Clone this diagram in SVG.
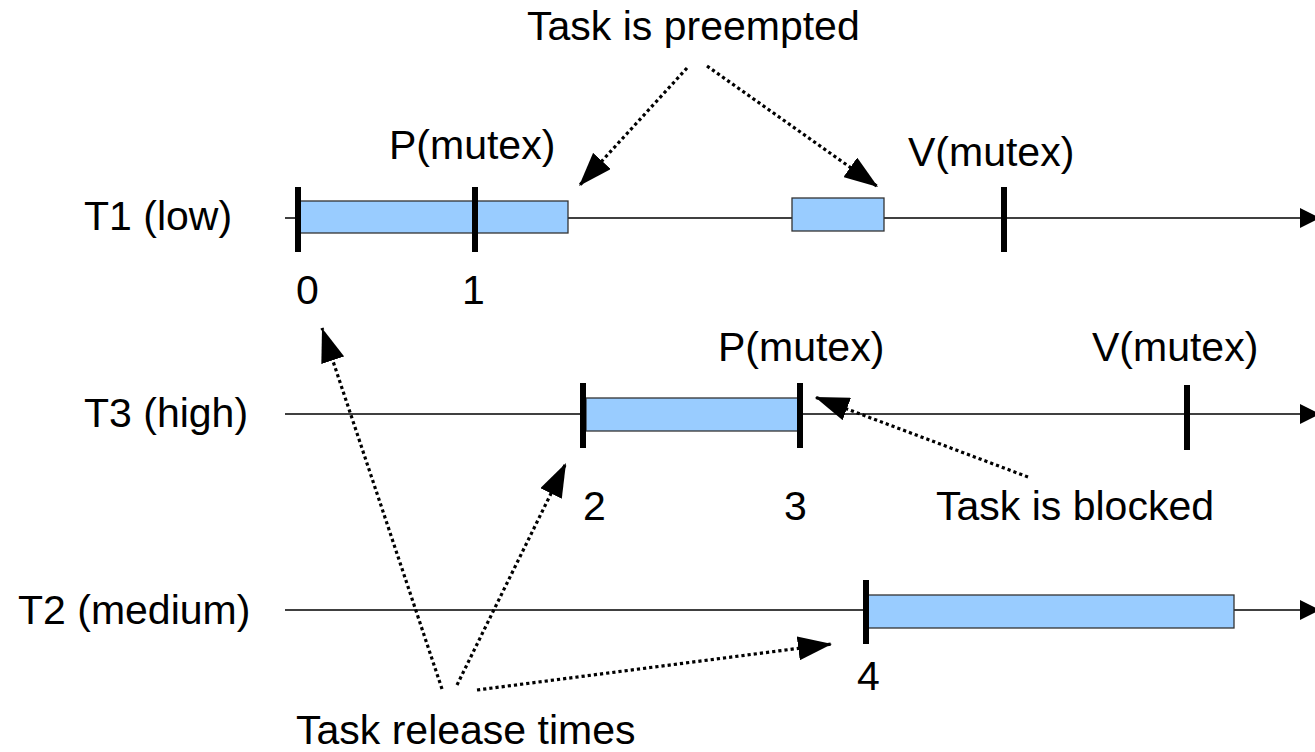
<svg xmlns="http://www.w3.org/2000/svg" width="1315" height="752" viewBox="0 0 1315 752">
<style>
text{font-family:"Liberation Sans",Arial,sans-serif;font-size:41px;fill:#000}
.axis{stroke:#000;stroke-width:1.5;fill:none}
.bar{fill:#99ccff;stroke:#333;stroke-width:1.3}
.tick{fill:#000}
.dot{stroke:#000;stroke-width:3.2;stroke-dasharray:3.2 3;fill:none;marker-end:url(#ah)}
</style>
<defs>
<marker id="ah" viewBox="0 0 34 24" refX="34" refY="12" markerWidth="34" markerHeight="24" markerUnits="userSpaceOnUse" orient="auto">
<path d="M0,0 L34,12 L0,24 z" fill="#000"/>
</marker>
</defs>
<rect width="1315" height="752" fill="#fff"/>

<g id="timeline-T1">
<text x="84" y="230">T1 (low)</text>
<line class="axis" x1="285" y1="218" x2="1305" y2="218"/>
<polygon points="1300,208 1320,218 1300,228" fill="#000"/>
<rect class="bar" x="298" y="201" width="270" height="32"/>
<rect class="bar" x="792" y="198" width="92" height="33"/>
<rect class="tick" x="295" y="187" width="6" height="65"/>
<rect class="tick" x="472" y="187" width="6" height="65"/>
<rect class="tick" x="1001" y="187" width="6" height="65"/>
<text x="389" y="159">P(mutex)</text>
<text x="908" y="166">V(mutex)</text>
<text x="296" y="304">0</text>
<text x="462" y="304">1</text>
</g>

<g id="timeline-T3">
<text x="84" y="427">T3 (high)</text>
<line class="axis" x1="285" y1="414" x2="1305" y2="414"/>
<polygon points="1300,404 1320,414 1300,424" fill="#000"/>
<rect class="bar" x="586" y="398" width="214" height="33"/>
<rect class="tick" x="580" y="383" width="6" height="65"/>
<rect class="tick" x="797" y="383" width="6" height="65"/>
<rect class="tick" x="1184" y="385" width="6" height="65"/>
<text x="718" y="361">P(mutex)</text>
<text x="1092" y="361">V(mutex)</text>
<text x="583" y="520">2</text>
<text x="784" y="520">3</text>
</g>

<g id="timeline-T2">
<text x="18" y="624">T2 (medium)</text>
<line class="axis" x1="285" y1="610" x2="1305" y2="610"/>
<polygon points="1300,600 1320,610 1300,620" fill="#000"/>
<rect class="bar" x="868" y="595" width="366" height="33"/>
<rect class="tick" x="863" y="580" width="6" height="64"/>
<text x="857" y="690">4</text>
</g>

<g id="label-preempted">
<text x="527" y="40">Task is preempted</text>
</g>
<g id="label-blocked">
<text x="936" y="520">Task is blocked</text>
</g>
<g id="label-release">
<text x="296" y="744">Task release times</text>
</g>

<g id="connectors">
<line class="dot" x1="687" y1="68" x2="579" y2="186"/>
<line class="dot" x1="707" y1="66" x2="878" y2="187"/>
<line class="dot" x1="1028" y1="477" x2="815" y2="397"/>
<line class="dot" x1="442" y1="689" x2="322" y2="328"/>
<line class="dot" x1="457" y1="685" x2="566" y2="463"/>
<line class="dot" x1="477" y1="690" x2="832" y2="644"/>
</g>
</svg>
